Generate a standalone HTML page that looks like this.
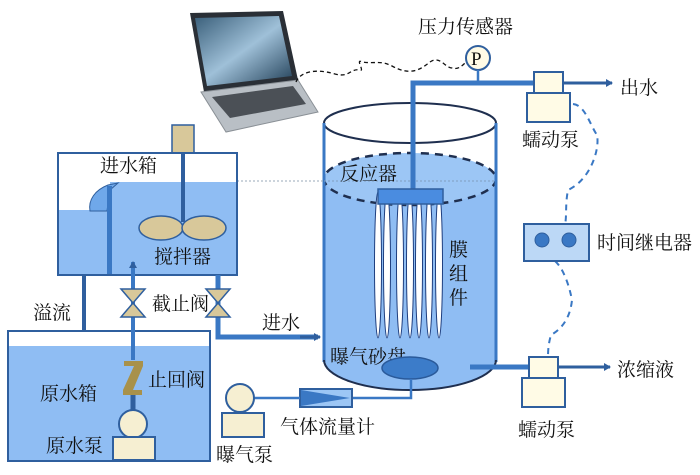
<!DOCTYPE html>
<html><head><meta charset="utf-8"><style>
html,body{margin:0;padding:0;background:#fff;}
text{font-family:"Liberation Serif","Noto Serif CJK SC",serif;font-size:19px;fill:#111;}
</style></head><body>
<svg width="700" height="470" viewBox="0 0 700 470" xmlns="http://www.w3.org/2000/svg">
<defs>
<marker id="ar" markerWidth="8" markerHeight="8" refX="6" refY="4" orient="auto" markerUnits="userSpaceOnUse"><path d="M0,0 L7,4 L0,8 Z" fill="#2f5f9e"/></marker>
<linearGradient id="scr" x1="0" y1="0" x2="1" y2="1"><stop offset="0" stop-color="#3a5f7a"/><stop offset="0.5" stop-color="#9fc0d8"/><stop offset="1" stop-color="#1f3d55"/></linearGradient>
</defs>
<!-- laptop -->
<polygon points="190,13 283,11 298,80 204,92" fill="#2a2f36"/>
<polygon points="195,18 279,16 292,76 207,86" fill="url(#scr)"/>
<polygon points="201,92 298,80 318,112 226,132" fill="#b9bfc5" stroke="#8a9096"/>
<polygon points="212,97 293,86 306,104 230,118" fill="#4b5056"/>
<!-- cable dashed -->
<path d="M296,82 C300,72 315,68 335,74 C350,78 350,68 360,70 C365,72 355,58 362,62 C375,64 380,60 392,66 C410,76 420,70 430,62 C440,55 445,68 452,68 C458,70 462,66 466,62" fill="none" stroke="#111" stroke-width="1.3" stroke-dasharray="4,3"/>
<text x="418" y="33">压力传感器</text>
<circle cx="478" cy="58" r="12" fill="#fffbe6" stroke="#2f5f9e" stroke-width="2"/>
<text x="471" y="65" font-size="17">P</text>
<!-- reactor -->
<path d="M324,123 L324,360 A86,30 0 0 0 496,360 L496,123" fill="#8fbdf3"/>
<rect x="324" y="123" width="172" height="56" fill="#fff"/>
<ellipse cx="410" cy="179" rx="86" ry="26" fill="#9cc6f5" stroke="#1f2f4f" stroke-width="2.5" stroke-dasharray="8,6"/>
<ellipse cx="410" cy="123" rx="86" ry="20" fill="none" stroke="#1f2f4f" stroke-width="2"/>
<line x1="324" y1="123" x2="324" y2="362" stroke="#3a78c4" stroke-width="3"/>
<line x1="496" y1="123" x2="496" y2="362" stroke="#3a78c4" stroke-width="3"/>
<path d="M324,360 A86,30 0 0 0 496,360" fill="none" stroke="#1f2f4f" stroke-width="2"/>
<line x1="237" y1="181" x2="324" y2="181" stroke="#9aaab8" stroke-dasharray="2,2"/>
<line x1="324" y1="181" x2="496" y2="181" stroke="#7f9fc0" stroke-dasharray="2,2"/>
<text x="340" y="180">反应器</text>
<!-- permeate pipe -->
<path d="M413,190 L413,83 L533,83" fill="none" stroke="#3a78c4" stroke-width="5"/>
<line x1="478" y1="70" x2="478" y2="83" stroke="#3a78c4" stroke-width="2.5"/>
<!-- fibers -->
<g fill="#fff" stroke="#1f3f7f" stroke-width="1">
<ellipse cx="378" cy="265" rx="3.5" ry="73"/><ellipse cx="387" cy="265" rx="3.5" ry="73"/>
<ellipse cx="400" cy="265" rx="3.5" ry="73"/><ellipse cx="410" cy="265" rx="3.5" ry="73"/>
<ellipse cx="419" cy="265" rx="3.5" ry="73"/><ellipse cx="429" cy="265" rx="3.5" ry="73"/>
<ellipse cx="439" cy="265" rx="3.5" ry="73"/>
</g>
<rect x="378" y="189" width="65" height="15" fill="#4a8ce0" stroke="#2f5f9e" stroke-width="1.5"/>
<text x="449" y="256">膜</text><text x="449" y="280">组</text><text x="449" y="304">件</text>
<text x="330" y="363">曝气砂盘</text>
<ellipse cx="410" cy="368" rx="28" ry="11" fill="#3c7cc9" stroke="#2a5a9a" stroke-width="1.5"/>
<!-- air line -->
<path d="M411,379 L411,398 L353,398" fill="none" stroke="#3a78c4" stroke-width="2.5"/>
<rect x="300" y="389" width="52" height="18" fill="#9cc6f5" stroke="#2f5f9e" stroke-width="2"/>
<polygon points="301,390 350,398 301,406" fill="#3a78c4"/>
<line x1="254" y1="398" x2="300" y2="398" stroke="#3a78c4" stroke-width="2.5"/>
<circle cx="240" cy="398" r="14" fill="#f6efd2" stroke="#2f5f9e" stroke-width="2"/>
<rect x="222" y="413" width="42" height="24" fill="#f6efd2" stroke="#2f5f9e" stroke-width="2"/>
<text x="216" y="461">曝气泵</text>
<text x="280" y="433">气体流量计</text>
<!-- top pump -->
<line x1="563" y1="83" x2="612" y2="83" stroke="#2f5f9e" stroke-width="3" marker-end="url(#ar)"/>
<rect x="534" y="72" width="29" height="21" fill="#fffbe6" stroke="#2f5f9e" stroke-width="2"/>
<rect x="527" y="93" width="43" height="29" fill="#fffbe6" stroke="#2f5f9e" stroke-width="2"/>
<text x="620" y="94">出水</text>
<text x="522" y="146">蠕动泵</text>
<!-- timer -->
<path d="M573,104 C585,105 590,125 597,135 C600,150 590,180 568,190 C565,205 567,215 565,225" fill="none" stroke="#3a78c4" stroke-width="2" stroke-dasharray="6,5"/>
<path d="M555,261 C565,270 570,290 572,300 C570,320 560,330 551,335 C548,345 548,352 548,360" fill="none" stroke="#3a78c4" stroke-width="2" stroke-dasharray="6,5"/>
<rect x="524" y="224" width="65" height="37" fill="#bcd8f6" stroke="#2f5f9e" stroke-width="2"/>
<circle cx="542" cy="240" r="7" fill="#3a78c4" stroke="#2f5f9e"/>
<circle cx="569" cy="240" r="7" fill="#3a78c4" stroke="#2f5f9e"/>
<text x="597" y="249">时间继电器</text>
<!-- concentrate -->
<line x1="470" y1="367" x2="528" y2="367" stroke="#3a78c4" stroke-width="5"/>
<line x1="558" y1="367" x2="610" y2="367" stroke="#2f5f9e" stroke-width="3" marker-end="url(#ar)"/>
<rect x="529" y="357" width="29" height="21" fill="#fffbe6" stroke="#2f5f9e" stroke-width="2"/>
<rect x="522" y="378" width="43" height="29" fill="#fffbe6" stroke="#2f5f9e" stroke-width="2"/>
<text x="617" y="376">浓缩液</text>
<text x="518" y="436">蠕动泵</text>
<!-- mixing tank -->
<rect x="172" y="125" width="22" height="28" fill="#d8c89a" stroke="#2f5f9e" stroke-width="1.5"/>
<rect x="58" y="153" width="179" height="122" fill="#fff" stroke="#2f5f9e" stroke-width="2"/>
<rect x="110" y="182" width="126" height="92" fill="#8fbdf3"/>
<rect x="59" y="210" width="51" height="64" fill="#8fbdf3"/>
<path d="M90,211 C88,200 95,190 108,185 L118,183 L110,190 L107,211 Z" fill="#6fa8ea" stroke="#2f5f9e" stroke-width="1"/>
<rect x="107" y="186" width="5" height="88" fill="#3a78c4"/>
<text x="100" y="172">进水箱</text>
<line x1="183" y1="153" x2="183" y2="222" stroke="#2f5f9e" stroke-width="4"/>
<ellipse cx="161" cy="228" rx="22" ry="12" fill="#d8c89a" stroke="#2f5f9e" stroke-width="1.5"/>
<ellipse cx="204" cy="228" rx="22" ry="12" fill="#d8c89a" stroke="#2f5f9e" stroke-width="1.5"/>
<text x="154" y="263">搅拌器</text>
<!-- overflow -->
<line x1="84" y1="275" x2="84" y2="352" stroke="#2f5f9e" stroke-width="4" marker-end="url(#ar)"/>
<text x="33" y="319">溢流</text>
<!-- raw tank -->
<rect x="8" y="331" width="202" height="130" fill="#fff" stroke="#2f5f9e" stroke-width="2"/>
<rect x="9" y="346" width="200" height="114" fill="#8fbdf3"/>
<text x="40" y="400">原水箱</text>
<text x="46" y="452">原水泵</text>
<!-- return pipe -->
<line x1="133" y1="360" x2="133" y2="262" stroke="#3a78c4" stroke-width="4" marker-end="url(#ar)"/>
<line x1="133" y1="395" x2="133" y2="412" stroke="#2f5f9e" stroke-width="5"/>
<path d="M124,361 L143,361 L143,366 L133,390 L142,390 L142,395 L123,395 L123,390 L134,366 L124,366 Z" fill="#a8914a"/>
<circle cx="133" cy="424" r="14" fill="#f6efd2" stroke="#2f5f9e" stroke-width="2"/>
<rect x="113" y="437" width="42" height="23" fill="#f6efd2" stroke="#2f5f9e" stroke-width="2"/>
<text x="148" y="386">止回阀</text>
<!-- valves -->
<g stroke="#2f5f9e" stroke-width="1.5" fill="#d8c89a">
<polygon points="121,289 145,289 133,303"/><polygon points="121,317 145,317 133,303"/>
</g>
<path d="M218,275 L218,337 L318,337" fill="none" stroke="#3a78c4" stroke-width="5"/>
<line x1="300" y1="337" x2="320" y2="337" stroke="#2f5f9e" stroke-width="3" marker-end="url(#ar)"/>
<g stroke="#2f5f9e" stroke-width="1.5" fill="#d8c89a">
<polygon points="206,289 230,289 218,303"/><polygon points="206,317 230,317 218,303"/>
</g>
<text x="152" y="310">截止阀</text>
<text x="262" y="329">进水</text>
</svg>
</body></html>
